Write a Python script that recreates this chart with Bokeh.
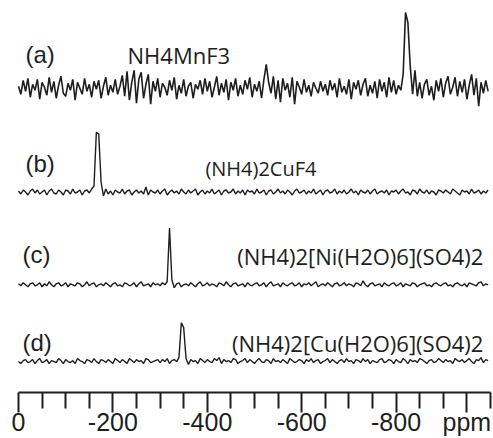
import numpy as np
from bokeh.plotting import figure
from bokeh.models import Range1d, LinearAxis, FixedTicker
from bokeh.core.properties import value
from bokeh.embed import file_html
from bokeh.resources import INLINE

# chemical shift grid (ppm), 5 ppm steps from 0 to -995
ppm = -5.0 * np.arange(200)

spec_a = [2, -6, 8, -3, 10, -9, 4, -2, 9, -11, 6, 1, -7, 11, -4, 7, -10, 3, 12, -5,
          -8, 5, -2, 9, -12, 6, 0, -6, 10, -3, 4, -9, 7, -1, 8, -10, 2, 11, -7, 3,
          -4, 9, -6, 2, 13, -8, 17, -12, 6, 18, -15, 9, 16, -10, 4, 14, -16, 7, -3, 10,
          -9, 5, 1, -7, 8, -2, 11, -11, 3, -5, 9, -8, 2, 6, -10, 4, -1, 8, -6, 10,
          -3, 7, -9, 1, 12, -7, 5, -4, 9, -12, 6, -2, 10, -8, 3, -6, 8, -1, 11, -9,
          4, -3, 7, -10, 9, 24, 6, -5, 12, -11, 8, -14, 10, -2, 5, -9, 11, -16, 7, 1,
          -6, 9, -4, 3, -8, 6, 0, -5, 7, -3, 4, -7, 8, -2, 5, -9, 10, -4, 2, -6,
          9, -11, 6, -1, 8, -7, 4, 10, -8, 3, -5, 7, -10, 9, -3, 6, -9, 11, -4, 8,
          -6, 3, -2, 14, 76, 66, 22, -6, 18, -8, 6, -10, 4, 9, -7, 2, -12, 8, -3, 10,
          -9, 5, 12, -6, 1, 11, -8, 7, -4, 9, -11, 3, 14, -7, 10, -18, 6, -5, 8, -3]

spec_b = [1, -2, 2, 0, -3, 1, 3, -1, 2, -2, 0, 2, -3, 1, 3, -1, -2, 2, 0, -3,
          2, 1, -2, 3, -1, 0, 2, -3, 1, 2, -1, 3, 6, 60, 58, 10, -4, 3, -2, 1,
          -3, 2, 0, -1, 3, -2, 1, 2, -3, 0, 2, -1, 1, -2, 5, -3, 2, 0, -1, 2,
          -2, 1, 3, -3, 0, 2, -1, 1, -2, 3, 0, -2, 2, -1, 1, 3, -3, 0, 2, -2,
          1, -1, 3, -2, 0, 2, -3, 1, 2, -1, 0, 3, -2, 1, -1, 2, -3, 2, 0, 1,
          -2, 3, -1, 0, 2, -3, 1, 2, -2, 0, 3, -1, 1, -2, 2, 0, -3, 1, 3, -1,
          0, 2, -2, 1, -1, 3, -2, 0, 2, -3, 1, 2, -1, 0, 3, -2, 1, -1, 2, -2,
          0, 3, -1, 1, -3, 2, 0, -1, 2, -2, 1, 3, -2, 0, 1, -1, 2, -3, 1, 0,
          2, -2, 1, 3, -1, 0, -3, 2, 1, -2, 3, 0, -1, 2, -2, 1, 0, -3, 2, 1,
          -1, 2, 0, -2, 3, 1, -1, -3, 2, 0, 1, -2, 3, -1, 0, 2, -2, 1, -1, 2]

spec_c = [1, -1, 2, 0, -2, 1, 2, -1, 0, 2, -2, 1, -1, 3, 0, -2, 1, 2, -1, 0,
          2, -2, 1, 0, -1, 2, 1, -2, 0, 3, -1, 1, 2, -2, 0, 1, -1, 2, 0, -2,
          1, 2, -1, 0, -2, 2, 1, -1, 0, 2, -2, 1, 3, -1, 0, 1, -2, 2, 0, 1,
          -1, 2, 0, 3, 57, 5, -3, 1, 2, -2, 0, 1, -1, 2, 0, -2, 1, 3, -1, 0,
          2, -1, 1, 0, -2, 2, 1, -1, 3, 0, -2, 1, 2, -1, 0, 1, -2, 2, 0, -1,
          1, 2, -1, 0, 2, -2, 1, 3, -1, 0, 1, -2, 2, 0, -1, 1, 2, -1, 0, 2,
          -2, 1, 0, 2, -1, 1, 3, -2, 0, 1, -1, 2, 0, -2, 1, 2, -1, 0, 2, -1,
          1, 0, -2, 2, 1, -1, 4, 0, -2, 1, 2, -1, 0, 1, -2, 2, 0, -1, 1, 2,
          -1, 0, 2, -2, 1, 0, -1, 2, 1, -2, 0, 1, 2, -1, 0, -2, 1, 2, 0, -1,
          1, 2, -1, 0, -2, 1, 2, 0, -1, 1, -2, 2, 1, 0, -1, 2, 3, -1, 1, 0]

spec_d = [0, -2, 1, 2, -1, 0, 2, -2, 1, 3, -1, 0, 2, -2, 1, 0, -1, 3, 1, -2,
          2, 0, -1, 1, -2, 3, 1, 0, -2, 2, 1, -1, 3, 0, -2, 2, 1, -1, 2, 0,
          -2, 3, 1, -1, 2, 0, -2, 3, 1, -1, 2, 0, 1, -2, 3, 2, -1, 0, 1, 2,
          -1, 2, 0, 3, -2, 1, 2, 0, 4, 39, 34, 3, -3, 2, 0, 1, -2, 3, 1, -1,
          2, 0, -1, 3, 1, 4, -2, 2, 0, 1, -1, 3, 2, -2, 0, 1, 3, -1, 2, 0,
          -2, 1, 3, 0, -1, 2, 1, -2, 3, 0, 1, -1, 2, 0, -2, 3, 1, -1, 0, 2,
          1, -2, 2, 0, 3, -1, 1, 2, -2, 0, 1, 3, -1, 2, 0, -2, 1, 2, -1, 3,
          0, 1, -2, 2, 1, -1, 3, 0, 2, -2, 1, 0, -1, 2, 3, -1, 0, 2, 1, -2,
          2, 0, -1, 3, 1, -2, 2, 0, 1, -1, 3, 2, 0, -2, 1, 2, -1, 0, 3, 1,
          -1, 2, 0, 1, -2, 3, 1, 0, 2, -1, 1, 3, 0, -2, 2, 1, 4, -1, 2, 1]

panel_tags = ["(a)", "(b)", "(c)", "(d)"]
compounds = ["NH4MnF3", "(NH4)2CuF4", "(NH4)2[Ni(H2O)6](SO4)2", "(NH4)2[Cu(H2O)6](SO4)2"]

major_ticks = [0, -200, -400, -600, -800, -950]
tick_labels = ["0", "-200", "-400", "-600", "-800", "ppm"]

# vertical stacking offsets for each trace
offsets = [305, 201, 108, 31]

INK = "#1e1e1e"

p = figure(width=493, height=438, output_backend="svg", toolbar_location=None,
           x_axis_type=None, y_axis_type=None,
           x_range=Range1d(38.1, -1006.4), y_range=Range1d(0, 393),
           min_border=0)
p.outline_line_color = None
p.background_fill_color = "white"
p.border_fill_color = "white"

for spec, off, lw in zip([spec_a, spec_b, spec_c, spec_d], offsets, [1.6, 1.4, 1.4, 1.4]):
    p.line(ppm, np.array(spec) + off, line_color=INK, line_width=lw)

tag_font = value("Liberation Sans")
p.text(x=[-14.8, -14.8, -8.5, -8.5], y=[339, 230, 138, 50], text=panel_tags,
       text_font=tag_font, text_font_size="24px",
       text_baseline="middle", text_align="left", text_color=INK)

cfont = value("Open Sans")
p.text(x=[-231], y=[338], text=compounds[:1], text_font=cfont,
       text_font_size="22px", text_baseline="middle", text_align="left", text_color=INK)
p.text(x=[-396], y=[225], text=compounds[1:2], text_font=cfont,
       text_font_size="20px", text_baseline="middle", text_align="left", text_color=INK)
p.text(x=[-985, -985], y=[137, 50], text=compounds[2:], text_font=cfont,
       text_font_size="22px", text_baseline="middle", text_align="right", text_color=INK)

minor = [t for t in range(0, -1001, -50) if t not in major_ticks]
ax = LinearAxis(ticker=FixedTicker(ticks=major_ticks, minor_ticks=minor))
ax.bounds = (-1000, 0)
ax.major_label_overrides = dict(zip(major_ticks, tick_labels))
ax.axis_line_width = 2
ax.axis_line_color = INK
ax.major_tick_line_width = 2
ax.minor_tick_line_width = 2
ax.major_tick_line_color = INK
ax.minor_tick_line_color = INK
ax.major_tick_out = 20
ax.major_tick_in = 0
ax.minor_tick_out = 16
ax.minor_tick_in = 0
ax.major_label_standoff = -5
ax.major_label_text_font = "Liberation Sans"
ax.major_label_text_font_size = "25px"
ax.major_label_text_line_height = 0.6
ax.major_label_text_color = INK
p.add_layout(ax, "below")

open("out.html", "w").write(file_html(p, INLINE))
